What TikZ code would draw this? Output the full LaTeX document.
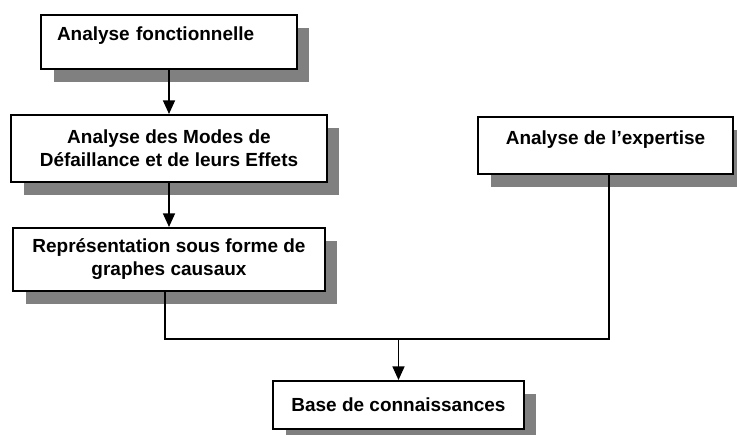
\documentclass[tikz,border=0pt]{standalone}
\usepackage{fontspec}
\setmainfont{Liberation Sans}
\usetikzlibrary{arrows.meta,shadows}
\definecolor{shade}{gray}{0.5}
\tikzset{
  box/.style={draw, line width=1.2pt, fill=white, align=center, inner sep=0pt,
              font=\fontsize{10.8}{13.1}\selectfont\bfseries,
              drop shadow={shadow xshift=0.25cm, shadow yshift=-0.26cm, fill=shade, opacity=1}},
  flow/.style={-{Triangle[length=0.27cm,width=0.24cm]}, line width=0.7pt},
  link/.style={line width=0.7pt},
}

\begin{document}
\begin{tikzpicture}[x=0.02cm, y=-0.02cm]
  \useasboundingbox (0,0) rectangle (737,434);
  \node[box, text width=4.48cm, align=left, inner xsep=0.32cm, minimum height=1.08cm, text depth=0.32cm] (fct) at (169,42) {Analyse fonctionnelle};
  \node[box, minimum width=6.32cm, minimum height=1.34cm] (amdec) at (169,148.5) {Analyse des Modes de\\D\'efaillance et de leurs Effets};
  \node[box, minimum width=6.24cm, minimum height=1.26cm] (graph) at (169,259.5) {Repr\'esentation sous forme de\\graphes causaux};
  \node[box, minimum width=5.10cm, minimum height=1.14cm, text depth=0.32cm] (expert) at (605.5,145.5) {Analyse de l'expertise};
  \node[box, minimum width=5.02cm, minimum height=0.96cm] (base) at (398.5,405) {Base de connaissances};
  \coordinate (jn) at (398.5,339);
  \draw[flow] (fct) -- (amdec);
  \draw[flow] (amdec) -- (graph);
  % the two branches meet above the base
  \draw[link] ([xshift=-0.08cm]graph.south) |- (jn) -| ([xshift=0.07cm]expert.south);
  \draw[flow] (jn) -- (base);
\end{tikzpicture}
\end{document}
